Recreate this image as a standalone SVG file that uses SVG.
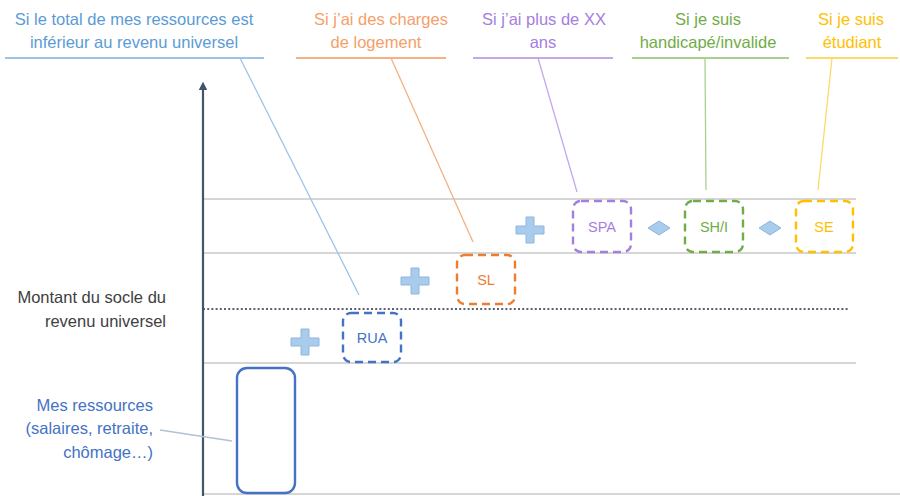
<svg xmlns="http://www.w3.org/2000/svg" width="900" height="496" viewBox="0 0 900 496">
  <defs>
    <style>
      text { font-family: "Liberation Sans", Arial, sans-serif; font-size: 16.5px; }
      .c { text-anchor: middle; }
      .r { text-anchor: end; }
      .grid { stroke: #c9c9c9; stroke-width: 1.6; fill: none; }
      .box { fill: none; stroke-width: 2.4; stroke-dasharray: 8 5; }
      .lbl { font-size: 14.5px; }
      .plus { fill: #a9cbec; stroke: #8fb6e0; stroke-width: 1; }
      .dia { fill: #a9cbec; stroke: #8fb6e0; stroke-width: 1; }
      .lead { fill: none; stroke-width: 1.3; }
    </style>
    <marker id="axisHead" viewBox="0 0 10 10" refX="5" refY="5" markerWidth="4" markerHeight="4" orient="auto-start-reverse">
      <path d="M0,0 L10,5 L0,10 z" fill="#44546a"/>
    </marker>
  </defs>
  <rect width="900" height="496" fill="#ffffff"/>

  <!-- level lines -->
  <g id="levels">
    <line class="grid" x1="203" y1="199" x2="856" y2="199"/>
    <line class="grid" x1="203" y1="253" x2="856" y2="253"/>
    <line x1="203" y1="309" x2="849" y2="309" stroke="#5a6170" stroke-width="2" stroke-dasharray="2 2.2"/>
    <line class="grid" x1="203" y1="363" x2="856" y2="363"/>
    <line class="grid" x1="203" y1="494" x2="900" y2="494"/>
  </g>

  <!-- vertical axis -->
  <g id="axis">
    <line x1="203" y1="496" x2="203" y2="86" stroke="#44546a" stroke-width="2.2" marker-end="url(#axisHead)"/>
  </g>

  <!-- condition headers -->
  <g id="cond-rua">
    <text class="c" x="134" y="25" fill="#5b9bd5">Si le total de mes ressources est</text>
    <text class="c" x="134" y="48" fill="#5b9bd5">inférieur au revenu universel</text>
    <line x1="5" y1="58" x2="264" y2="58" stroke="#9dc3e6" stroke-width="2"/>
  </g>
  <g id="cond-sl">
    <text class="c" x="381" y="25" fill="#f4a06a">Si j’ai des charges</text>
    <text class="c" x="376" y="48" fill="#f4a06a">de logement</text>
    <line x1="296" y1="58" x2="446" y2="58" stroke="#f4b183" stroke-width="2"/>
  </g>
  <g id="cond-spa">
    <text class="c" x="544" y="25" fill="#a57ee0">Si j’ai plus de XX</text>
    <text class="c" x="543" y="48" fill="#a57ee0">ans</text>
    <line x1="473" y1="58" x2="613" y2="58" stroke="#c3a8ec" stroke-width="2"/>
  </g>
  <g id="cond-shi">
    <text class="c" x="708" y="25" fill="#70ad47">Si je suis</text>
    <text class="c" x="708" y="48" fill="#70ad47">handicapé/invalide</text>
    <line x1="632" y1="58" x2="789" y2="58" stroke="#a9d18e" stroke-width="2"/>
  </g>
  <g id="cond-se">
    <text class="c" x="851" y="25" fill="#ffc000">Si je suis</text>
    <text class="c" x="852" y="48" fill="#ffc000">étudiant</text>
    <line x1="806" y1="58" x2="898" y2="58" stroke="#ffd966" stroke-width="2"/>
  </g>

  <!-- side labels -->
  <g id="label-socle">
    <text class="r" x="166" y="303" fill="#404040">Montant du socle du</text>
    <text class="r" x="166" y="327" fill="#404040">revenu universel</text>
  </g>
  <g id="label-ressources">
    <text class="r" x="153" y="411" fill="#4472c4">Mes ressources</text>
    <text class="r" x="153" y="434" fill="#4472c4">(salaires, retraite,</text>
    <text class="r" x="153" y="458" fill="#4472c4">chômage…)</text>
  </g>

  <!-- leader lines -->
  <g id="connectors">
    <line class="lead" x1="240" y1="58" x2="359" y2="295" stroke="#9dc3e6"/>
    <line class="lead" x1="391" y1="58" x2="473" y2="242" stroke="#f4b183"/>
    <line class="lead" x1="538" y1="58" x2="577" y2="192" stroke="#c3a8ec"/>
    <line class="lead" x1="705" y1="58" x2="706" y2="190" stroke="#a9d18e"/>
    <line class="lead" x1="832" y1="58" x2="818" y2="190" stroke="#ffd966"/>
    <line class="lead" x1="160" y1="430" x2="232" y2="441" stroke="#b4c0d6"/>
  </g>

  <!-- resources bar -->
  <g id="ressources">
    <rect x="237" y="368" width="58" height="125" rx="10" fill="none" stroke="#4472c4" stroke-width="2.4"/>
  </g>

  <!-- benefit blocks -->
  <g id="rua">
    <rect class="box" x="343" y="313" width="58" height="49" rx="8" stroke="#4472c4"/>
    <text class="c lbl" x="372" y="343" fill="#4472c4">RUA</text>
  </g>
  <g id="sl">
    <rect class="box" x="457" y="255" width="58" height="49" rx="8" stroke="#ed7d31"/>
    <text class="c lbl" x="486" y="285" fill="#ed7d31">SL</text>
  </g>
  <g id="spa">
    <rect class="box" x="573" y="201" width="58" height="51" rx="8" stroke="#a57ee0"/>
    <text class="c lbl" x="602" y="232" fill="#a57ee0">SPA</text>
  </g>
  <g id="shi">
    <rect class="box" x="685" y="201" width="58" height="51" rx="8" stroke="#70ad47"/>
    <text class="c lbl" x="714" y="232" fill="#70ad47">SH/I</text>
  </g>
  <g id="se">
    <rect class="box" x="796" y="201" width="57" height="51" rx="8" stroke="#ffc000"/>
    <text class="c lbl" x="824" y="232" fill="#ffc000">SE</text>
  </g>

  <!-- operators -->
  <g id="operators">
    <path class="plus" transform="translate(305,342)" d="M-4,-13 H4 V-4 H14 V4 H4 V13 H-4 V4 H-14 V-4 H-4 Z"/>
    <path class="plus" transform="translate(415,281)" d="M-4,-13 H4 V-4 H14 V4 H4 V13 H-4 V4 H-14 V-4 H-4 Z"/>
    <path class="plus" transform="translate(530,230)" d="M-4,-13 H4 V-4 H14 V4 H4 V13 H-4 V4 H-14 V-4 H-4 Z"/>
    <path class="dia" d="M648,228 L659,221 L670,228 L659,235 Z"/>
    <path class="dia" d="M759,228 L770,221 L781,228 L770,235 Z"/>
  </g>
</svg>
